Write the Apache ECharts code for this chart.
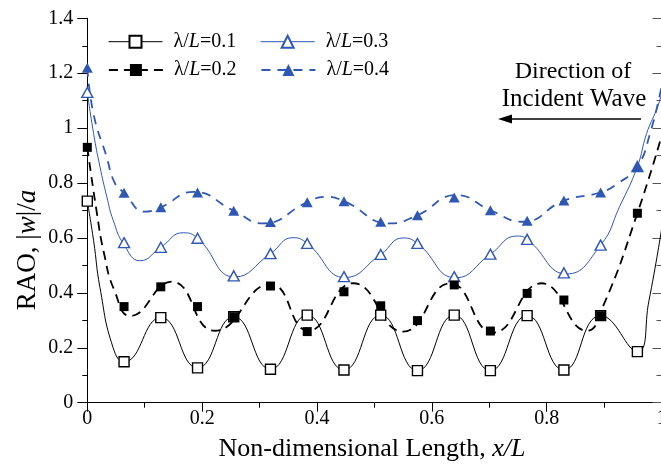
<!DOCTYPE html>
<html>
<head>
<meta charset="utf-8">
<script src="https://cdn.jsdelivr.net/npm/echarts@6/dist/echarts.min.js"></script>
<style>
  html, body { margin: 0; padding: 0; background: #fff; }
  #chart { width: 661px; height: 464px; }
</style>
</head>
<body>
<div id="chart"></div>
<script>
const SERIF = 'Liberation Serif';
const BLUE = '#2f58b5';

// Stations along the plate (x/L) where the marker values are reported
const stationX = [0, 0.064, 0.128, 0.192, 0.255, 0.319, 0.383, 0.447, 0.511, 0.575, 0.639, 0.702, 0.766, 0.830, 0.894, 0.958];

// Marker values of RAO |w|/a at each station
const rao01 = [0.734, 0.149, 0.310, 0.127, 0.313, 0.122, 0.319, 0.119, 0.319, 0.117, 0.319, 0.117, 0.317, 0.119, 0.317, 0.186];
const rao02 = [0.93, 0.350, 0.422, 0.350, 0.313, 0.425, 0.259, 0.404, 0.353, 0.299, 0.429, 0.261, 0.398, 0.374, 0.317, 0.690];
const rao03 = [1.13, 0.583, 0.566, 0.599, 0.462, 0.543, 0.580, 0.459, 0.540, 0.580, 0.459, 0.541, 0.595, 0.473, 0.574, 0.86];
const rao04 = [1.22, 0.765, 0.712, 0.766, 0.699, 0.658, 0.730, 0.734, 0.659, 0.683, 0.747, 0.701, 0.663, 0.736, 0.766, 0.86];

// Continuous response curves: positions and values
const curve01X = [0, 0.011, 0.022, 0.045, 0.064, 0.128, 0.192, 0.255, 0.319, 0.383, 0.447, 0.511, 0.575, 0.639, 0.702, 0.766, 0.830, 0.894, 0.958, 0.978, 1.0];
const curve01Y = [0.734, 0.59, 0.42, 0.20, 0.149, 0.310, 0.127, 0.313, 0.122, 0.319, 0.119, 0.319, 0.117, 0.319, 0.117, 0.317, 0.119, 0.317, 0.186, 0.37, 0.63];

const curve02X = [0, 0.016, 0.029, 0.047, 0.075, 0.147, 0.222, 0.319, 0.385, 0.463, 0.550, 0.632, 0.707, 0.791, 0.870, 0.900, 0.958, 1.0];
const curve02Y = [0.93, 0.70, 0.545, 0.41, 0.316, 0.441, 0.262, 0.432, 0.262, 0.435, 0.259, 0.435, 0.255, 0.435, 0.262, 0.36, 0.69, 0.97];

const curve03X = [0, 0.011, 0.022, 0.034, 0.045, 0.064, 0.092, 0.128, 0.167, 0.192, 0.257, 0.319, 0.358, 0.383, 0.449, 0.511, 0.550, 0.575, 0.642, 0.702, 0.748, 0.766, 0.835, 0.894, 0.927, 0.958, 0.974, 0.991, 1.0];
const curve03Y = [1.13, 0.98, 0.86, 0.75, 0.665, 0.575, 0.517, 0.566, 0.619, 0.599, 0.458, 0.543, 0.601, 0.580, 0.456, 0.540, 0.600, 0.580, 0.455, 0.541, 0.607, 0.595, 0.469, 0.574, 0.714, 0.86, 0.98, 1.066, 1.12];

const curve04X = [0, 0.011, 0.033, 0.048, 0.064, 0.100, 0.128, 0.185, 0.255, 0.306, 0.383, 0.414, 0.447, 0.527, 0.575, 0.643, 0.702, 0.759, 0.830, 0.894, 0.925, 0.958, 0.980, 1.0];
const curve04Y = [1.22, 1.05, 0.90, 0.80, 0.765, 0.696, 0.712, 0.768, 0.699, 0.653, 0.730, 0.750, 0.734, 0.653, 0.683, 0.756, 0.701, 0.659, 0.736, 0.766, 0.80, 0.86, 0.98, 1.15];

const names = ['λ/L=0.1', 'λ/L=0.2', 'λ/L=0.3', 'λ/L=0.4'];

function pairs(xs, ys) { return xs.map((x, i) => [x, ys[i]]); }

const styles = {
  'λ/L=0.1': { color: '#000', fill: '#fff', symbol: 'rect', size: [10, 10], line: { width: 1, type: 'solid' } },
  'λ/L=0.2': { color: '#000', fill: '#000', symbol: 'rect', size: [9, 9], line: { width: 1.8, type: [9, 6] } },
  'λ/L=0.3': { color: BLUE, fill: '#fff', symbol: 'triangle', size: [11, 10], line: { width: 1, type: 'solid' } },
  'λ/L=0.4': { color: BLUE, fill: BLUE, symbol: 'triangle', size: [11, 10], line: { width: 1.8, type: [9, 7] } }
};

const curves = {
  'λ/L=0.1': pairs(curve01X, curve01Y),
  'λ/L=0.2': pairs(curve02X, curve02Y),
  'λ/L=0.3': pairs(curve03X, curve03Y),
  'λ/L=0.4': pairs(curve04X, curve04Y)
};
const markers = {
  'λ/L=0.1': pairs(stationX, rao01),
  'λ/L=0.2': pairs(stationX, rao02),
  'λ/L=0.3': pairs(stationX, rao03),
  'λ/L=0.4': pairs(stationX, rao04)
};

const series = [];
names.forEach(n => {
  const s = styles[n];
  const itemStyle = { color: s.fill, borderColor: s.color, borderWidth: s.fill === '#fff' ? 1.4 : 0 };
  series.push({
    name: n, type: 'line', data: curves[n], smooth: 0.5, showSymbol: false,
    symbol: s.symbol, symbolSize: s.size, itemStyle: itemStyle,
    lineStyle: { color: s.color, width: s.line.width, type: s.line.type },
    xAxisIndex: 0, yAxisIndex: 0, z: 2
  });
});
names.forEach(n => {
  const s = styles[n];
  series.push({
    name: n, type: 'scatter', data: markers[n], symbol: s.symbol, symbolSize: s.size,
    itemStyle: { color: s.fill, borderColor: s.color, borderWidth: s.fill === '#fff' ? 1.4 : 0, opacity: 1 },
    xAxisIndex: 0, yAxisIndex: 0, z: s.fill === '#fff' ? 3 : 4
  });
});

const legendText = {
  fontFamily: SERIF, fontSize: 20, color: '#000', lineHeight: 20, padding: [0, 0, 0, 6],
  rich: {
    g: { fontFamily: SERIF, fontSize: 20, color: '#000' },
    i: { fontFamily: SERIF, fontSize: 20, fontStyle: 'italic', color: '#000' },
    n: { fontFamily: SERIF, fontSize: 20, color: '#000' }
  }
};
const legendFmt = n => '{g|λ}{n|/}{i|L}{n|=' + n.slice(4) + '}';

const option = {
  animation: false,
  backgroundColor: '#fff',
  grid: { left: 87.3, right: -0.5, top: 18.3, bottom: 61.3, outerBoundsMode: 'none', containLabel: false },
  xAxis: {
    type: 'value', min: 0, max: 1, interval: 0.2,
    axisLine: { lineStyle: { color: '#000', width: 1 } },
    axisTick: { show: true, inside: false, length: 9, lineStyle: { color: '#000' } },
    minorTick: { show: true, splitNumber: 2, length: 5, lineStyle: { color: '#000' } },
    axisLabel: { fontFamily: SERIF, fontSize: 20, color: '#000', margin: 6 },
    splitLine: { show: false }
  },
  yAxis: [
    {
      type: 'value', min: 0, max: 1.4, interval: 0.2, position: 'left',
      axisLine: { show: true, lineStyle: { color: '#000', width: 1 } },
      axisTick: { show: true, inside: false, length: 10, lineStyle: { color: '#000' } },
      minorTick: { show: true, splitNumber: 2, length: 5, lineStyle: { color: '#000' } },
      axisLabel: { fontFamily: SERIF, fontSize: 20, color: '#000', margin: 14 },
      splitLine: { show: false }
    },
    {
      type: 'value', min: 0, max: 1.4, interval: 0.2, position: 'right',
      axisLine: { show: true, lineStyle: { color: '#000', width: 1 } },
      axisTick: { show: true, inside: true, length: 9, lineStyle: { color: '#555' } },
      minorTick: { show: true, splitNumber: 2, length: 5, lineStyle: { color: '#555' } },
      axisLabel: { show: false },
      splitLine: { show: false }
    }
  ],
  legend: [
    {
      data: ['λ/L=0.1', 'λ/L=0.3'], left: 108, top: 31.7, orient: 'horizontal', padding: 0,
      itemWidth: 54, itemHeight: 15, itemGap: 24, lineStyle: { width: 1 },
      formatter: legendFmt, textStyle: legendText, selectedMode: false
    },
    {
      data: ['λ/L=0.2', 'λ/L=0.4'], left: 108, top: 60, orient: 'horizontal', padding: 0,
      itemWidth: 54, itemHeight: 15, itemGap: 24, lineStyle: { width: 1.8 },
      formatter: legendFmt, textStyle: legendText, selectedMode: false
    }
  ],
  graphic: [
    {
      type: 'text', x: 28, y: 250, rotation: Math.PI / 2,
      style: {
        text: 'RAO, |{i|w}|/{i|a}', fontFamily: SERIF, fontSize: 27, fill: '#000',
        align: 'center', verticalAlign: 'middle',
        rich: { i: { fontFamily: SERIF, fontSize: 27, fontStyle: 'italic', fill: '#000' } }
      }
    },
    {
      type: 'text', x: 372, y: 449,
      style: {
        text: 'Non-dimensional Length, {i|x/L}', fontFamily: SERIF, fontSize: 26, fill: '#000',
        align: 'center', verticalAlign: 'middle',
        rich: { i: { fontFamily: SERIF, fontSize: 26, fontStyle: 'italic', fill: '#000' } }
      }
    },
    {
      type: 'text', x: 573, y: 72,
      style: { text: 'Direction of', fontFamily: SERIF, fontSize: 24, fill: '#000', align: 'center', verticalAlign: 'middle' }
    },
    {
      type: 'text', x: 574, y: 99,
      style: { text: 'Incident Wave', fontFamily: SERIF, fontSize: 25, fill: '#000', align: 'center', verticalAlign: 'middle' }
    },
    {
      type: 'line', shape: { x1: 641, y1: 119, x2: 508, y2: 119 },
      style: { stroke: '#000', lineWidth: 1.3 }
    },
    {
      type: 'polygon', shape: { points: [[498, 119], [512, 114.5], [512, 123.5]] },
      style: { fill: '#000' }
    }
  ],
  series: series
};

const chart = echarts.init(document.getElementById('chart'), null, { renderer: 'canvas' });
chart.setOption(option);
</script>
</body>
</html>
